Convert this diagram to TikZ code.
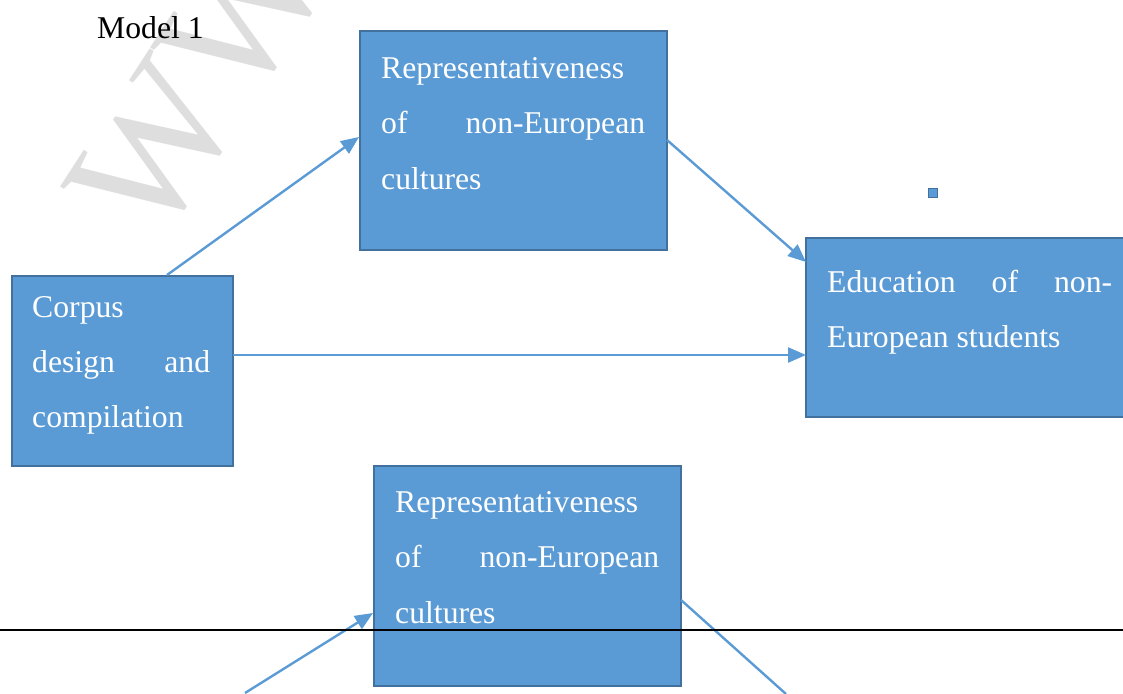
\documentclass[tikz,border=0pt]{standalone}
\usepackage{fontspec}
\setmainfont{Liberation Serif}
\usetikzlibrary{arrows.meta,calc}
\definecolor{boxfill}{RGB}{91,155,213}
\definecolor{boxline}{RGB}{65,113,156}
\definecolor{wmark}{RGB}{222,222,222}
\tikzset{
  box/.style={draw=boxline,fill=boxfill,line width=2.5pt,inner sep=0pt},
  txt/.style={anchor=base west,inner sep=0pt,text=white,font=\fontsize{31.7}{38}\selectfont},
  conn/.style={draw=boxfill,line width=2.4pt,-{Triangle[length=18pt,width=15pt]}},
  plain/.style={draw=boxfill,line width=2.4pt},
}
\begin{document}
\begin{tikzpicture}[x=1pt,y=-1pt]
\useasboundingbox (0,0) rectangle (1123,693);
\clip (0,0) rectangle (1123,693);
% watermark
\node[text=wmark,font=\fontsize{175}{175}\selectfont,rotate=57,inner sep=0] (wm) at (200,80) {WW};
\node[anchor=base west,inner sep=0,font=\fontsize{31.7}{38}\selectfont] (title) at (97,38) {Model 1};
% boxes
\path[box] (360,31) rectangle (667,250);
\node[inner sep=0,minimum width=307pt,minimum height=219pt] (top) at (513.5,140.5) {};
\path[box] (12,276) rectangle (233,466);
\node[inner sep=0,minimum width=221pt,minimum height=190pt] (left) at (122.5,371) {};
\path[box] (806,238) rectangle (1135,417);
\node[inner sep=0,minimum width=329pt,minimum height=179pt] (right) at (970.5,327.5) {};
\path[box] (374,466) rectangle (681,686);
\node[inner sep=0,minimum width=307pt,minimum height=220pt] (bot) at (527.5,576) {};
\node[draw=boxline,fill=boxfill,line width=1.5pt,minimum size=9pt,inner sep=0] (sq) at (933,193) {};
% texts
\node[txt] (t1) at (381,78) {Representativeness};
\node[txt] (t2) at (381,133.5) {\makebox[264pt][s]{of non-European}};
\node[txt] (t3) at (381,189) {cultures};
\node[txt] (l1) at (32,317) {Corpus};
\node[txt] (l2) at (32,372) {\makebox[178pt][s]{design and}};
\node[txt] (l3) at (32,427) {compilation};
\node[txt] (r1) at (827,292) {\makebox[285pt][s]{Education of non-}};
\node[txt] (r2) at (827,347) {European students};
\node[txt] (b1) at (395,512) {Representativeness};
\node[txt] (b2) at (395,567) {\makebox[264pt][s]{of non-European}};
\node[txt] (b3) at (395,623) {cultures};
% connectors
\coordinate (a1s) at (167,275);
\coordinate (a1e) at (359,137);
\draw[conn] (a1s) -- (a1e);
\coordinate (a2s) at (667,140);
\coordinate (a2e) at (806,262);
\draw[conn] (a2s) -- (a2e);
\coordinate (a3s) at (233,355);
\coordinate (a3e) at (806,355);
\draw[conn] (a3s) -- (a3e);
\coordinate (a4s) at (245,693);
\coordinate (a4e) at (373,613);
\draw[conn] (a4s) -- (a4e);
\coordinate (a5s) at (681,600);
\coordinate (a5e) at (786,694);
\draw[plain] (a5s) -- (a5e);
% rule line
\coordinate (h1) at (0,630);
\coordinate (h2) at (1123,630);
\draw[black,line width=1.3pt] (h1) -- (h2);
\end{tikzpicture}
\end{document}
